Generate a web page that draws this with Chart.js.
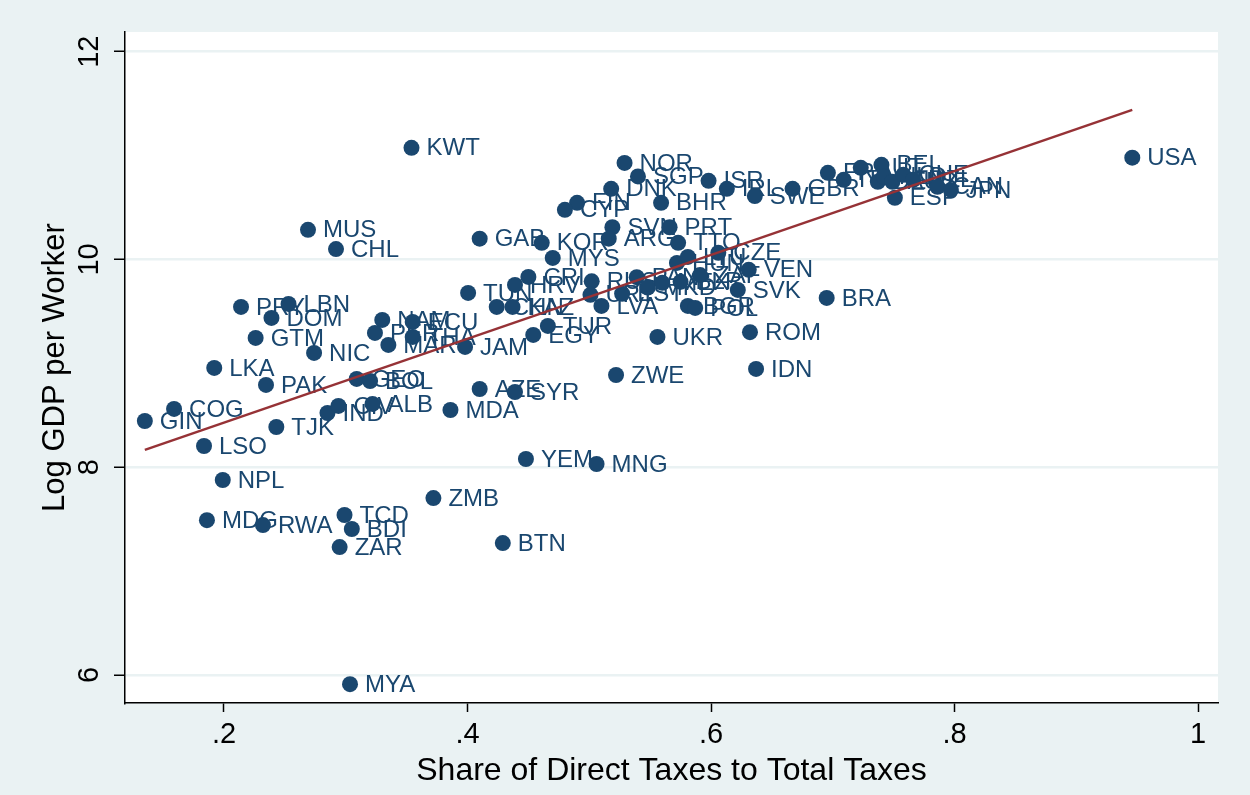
<!DOCTYPE html>
<html>
<head>
<meta charset="utf-8">
<title>Direct taxes and GDP per worker</title>
<script src="https://cdn.jsdelivr.net/npm/chart.js@4.4.1/dist/chart.umd.min.js"></script>
<style>
    html, body { margin: 0; padding: 0; background: #eaf2f3; }
    canvas { display: block; }
</style>
</head>
<body>
<canvas id="scatterChart" width="1250" height="795"></canvas>
<script>
let countries = [
    "USA", "KWT", "NOR", "SGP", "DNK", "ISR", "IRL", "SWE", "BHR", "FIN",
    "CYP", "SVN", "PRT", "GAB", "KOR", "ARG", "TTO", "MUS", "CHL", "MYS",
    "GBR", "FRA", "ITA", "AUT", "BEL", "DEU", "NLD", "AUS", "CHE", "NZL",
    "ESP", "CAN", "JPN", "PRY", "LBN", "DOM", "GTM", "NIC", "LKA", "PAK",
    "COG", "GIN", "TJK", "LSO", "IND", "CIV", "ALB", "GEO", "BOL", "AZE",
    "SYR", "MDA", "NPL", "MDG", "RWA", "TCD", "BDI", "ZAR", "ZMB", "BTN",
    "YEM", "MNG", "MYA", "ZWE", "IDN", "ROM", "UKR", "BRA", "JAM", "EGY",
    "TUR", "TUN", "NAM", "ECU", "PER", "THA", "MAR", "CRI", "HRV", "CHN",
    "KAZ", "RUS", "URY", "LVA", "EST", "PAN", "MKD", "MEX", "BLR", "ZAF",
    "HUN", "LTU", "CZE", "VEN", "SVK", "BGR", "POL"
];

let directShare = [
    0.946, 0.354, 0.529, 0.540, 0.518, 0.598, 0.613, 0.636, 0.559, 0.490,
    0.480, 0.519, 0.566, 0.410, 0.461, 0.516, 0.573, 0.269, 0.292, 0.470,
    0.667, 0.696, 0.709, 0.723, 0.740, 0.737, 0.742, 0.749, 0.758, 0.766,
    0.751, 0.786, 0.797, 0.214, 0.253, 0.239, 0.226, 0.274, 0.192, 0.2345,
    0.159, 0.135, 0.243, 0.1836, 0.285, 0.294, 0.322, 0.309, 0.320, 0.410,
    0.439, 0.386, 0.199, 0.186, 0.232, 0.299, 0.305, 0.295, 0.372, 0.429,
    0.448, 0.506, 0.3035, 0.522, 0.637, 0.632, 0.556, 0.695, 0.398, 0.454,
    0.466, 0.4005, 0.330, 0.355, 0.324, 0.355, 0.335, 0.450, 0.439, 0.424,
    0.437, 0.502, 0.501, 0.510, 0.527, 0.539, 0.548, 0.560, 0.575, 0.591,
    0.572, 0.581, 0.606, 0.631, 0.622, 0.581, 0.587
];

let logGdpWorker = [
    10.98, 11.075, 10.93, 10.80, 10.68, 10.757, 10.68, 10.61, 10.545, 10.545,
    10.478, 10.31, 10.31, 10.20, 10.16, 10.20, 10.16, 10.285, 10.10, 10.015,
    10.68, 10.834, 10.767, 10.882, 10.911, 10.748, 10.796, 10.748, 10.815, 10.767,
    10.594, 10.70, 10.67, 9.543, 9.572, 9.437, 9.245, 9.10, 8.956, 8.792,
    8.561, 8.445, 8.387, 8.204, 8.522, 8.59, 8.609, 8.85, 8.83, 8.753,
    8.724, 8.551, 7.877, 7.49, 7.443, 7.54, 7.405, 7.231, 7.703, 7.27,
    8.079, 8.031, 5.911, 8.888, 8.946, 9.30, 9.254, 9.63, 9.158, 9.274,
    9.36, 9.678, 9.418, 9.399, 9.293, 9.254, 9.177, 9.832, 9.755, 9.543,
    9.543, 9.79, 9.66, 9.553, 9.67, 9.83, 9.73, 9.775, 9.785, 9.85,
    9.967, 10.025, 10.064, 9.90, 9.707, 9.553, 9.534
];

let fitShare = [0.135, 0.946];
let fitGdp = [8.167, 11.44];

let xTicks = [0.2, 0.4, 0.6, 0.8, 1];
let xTickLabels = [".2", ".4", ".6", ".8", "1"];
let yTicks = [6, 8, 10, 12];
let yTickLabels = ["6", "8", "10", "12"];

let navy = "#1a476f";
let maroon = "#963236";
let pageColor = "#eaf2f3";
let fontFamily = "'Liberation Sans', Arial, Helvetica, sans-serif";

let points = [];
for (let i = 0; i < countries.length; i++) {
    points.push({ x: directShare[i], y: logGdpWorker[i] });
}

let fitPoints = [];
for (let i = 0; i < fitShare.length; i++) {
    fitPoints.push({ x: fitShare[i], y: fitGdp[i] });
}

function ticksFrom(values) {
    let list = [];
    for (let i = 0; i < values.length; i++) {
        list.push({ value: values[i] });
    }
    return list;
}

let backgroundPlugin = {
    id: "stataBackground",
    beforeDraw: function(chart) {
        let ctx = chart.ctx;
        let area = chart.chartArea;
        ctx.save();
        ctx.fillStyle = pageColor;
        ctx.fillRect(0, 0, chart.width, chart.height);
        ctx.fillStyle = "#ffffff";
        ctx.fillRect(area.left, area.top, area.right - area.left, area.bottom - area.top);
        ctx.restore();
    }
};

// country codes to the right of each marker
let markerLabelPlugin = {
    id: "markerLabels",
    beforeDatasetsDraw: function(chart) {
        let ctx = chart.ctx;
        let meta = chart.getDatasetMeta(1);
        ctx.save();
        ctx.font = "24px " + fontFamily;
        ctx.fillStyle = navy;
        ctx.textAlign = "left";
        ctx.textBaseline = "middle";
        for (let i = 0; i < meta.data.length; i++) {
            let el = meta.data[i];
            ctx.fillText(countries[i], el.x + 15, el.y + 1);
        }
        ctx.restore();
    }
};

// stata writes the y tick labels turned on their side
let yTickLabelPlugin = {
    id: "yTickLabels",
    afterDraw: function(chart) {
        let ctx = chart.ctx;
        let scale = chart.scales.y;
        ctx.save();
        ctx.font = "29px " + fontFamily;
        ctx.fillStyle = "#000000";
        ctx.textAlign = "center";
        ctx.textBaseline = "alphabetic";
        for (let i = 0; i < yTicks.length; i++) {
            let y = scale.getPixelForValue(yTicks[i]);
            ctx.save();
            ctx.translate(98, y);
            ctx.rotate(-Math.PI / 2);
            ctx.fillText(yTickLabels[i], 0, 0);
            ctx.restore();
        }
        ctx.restore();
    }
};

let chart = new Chart(document.getElementById("scatterChart"), {
    type: "scatter",
    data: {
        datasets: [
            {
                type: "line",
                label: "Fitted values",
                data: fitPoints,
                borderColor: maroon,
                borderWidth: 2.5,
                pointRadius: 0,
                fill: false,
                tension: 0
            },
            {
                label: "Log GDP per Worker",
                data: points,
                backgroundColor: navy,
                borderColor: navy,
                borderWidth: 0,
                pointRadius: 8,
                pointHoverRadius: 8
            }
        ]
    },
    options: {
        responsive: false,
        animation: false,
        events: [],
        layout: {
            padding: { top: 32, right: 32, left: 0, bottom: 0 }
        },
        plugins: {
            legend: { display: false },
            tooltip: { enabled: false }
        },
        scales: {
            x: {
                type: "linear",
                min: 0.1187,
                max: 1.0164,
                afterBuildTicks: function(scale) {
                    scale.ticks = ticksFrom(xTicks);
                },
                afterFit: function(scale) {
                    scale.height = 92;
                },
                ticks: {
                    autoSkip: false,
                    maxRotation: 0,
                    padding: 6,
                    color: "#000000",
                    font: { family: fontFamily, size: 29 },
                    callback: function(value, index) {
                        return xTickLabels[index];
                    }
                },
                grid: {
                    drawOnChartArea: false,
                    drawTicks: true,
                    tickLength: 9,
                    tickColor: "#000000",
                    tickWidth: 1.5
                },
                border: { display: true, color: "#000000", width: 1.5 },
                title: {
                    display: true,
                    text: "Share of Direct Taxes to Total Taxes",
                    color: "#000000",
                    font: { family: fontFamily, size: 32 },
                    padding: { top: 0, bottom: 5 }
                }
            },
            y: {
                type: "linear",
                min: 5.73,
                max: 12.19,
                afterBuildTicks: function(scale) {
                    scale.ticks = ticksFrom(yTicks);
                },
                afterFit: function(scale) {
                    scale.width = 125;
                },
                ticks: { display: false },
                grid: {
                    color: pageColor,
                    lineWidth: 2.5,
                    drawTicks: true,
                    tickLength: 11,
                    tickColor: "#000000",
                    tickWidth: 1.5
                },
                border: { display: true, color: "#000000", width: 1.5 },
                title: {
                    display: true,
                    text: "Log GDP per Worker",
                    color: "#000000",
                    font: { family: fontFamily, size: 31 },
                    padding: { top: 37, bottom: 0 }
                }
            }
        }
    },
    plugins: [backgroundPlugin, markerLabelPlugin, yTickLabelPlugin]
});
</script>
</body>
</html>
